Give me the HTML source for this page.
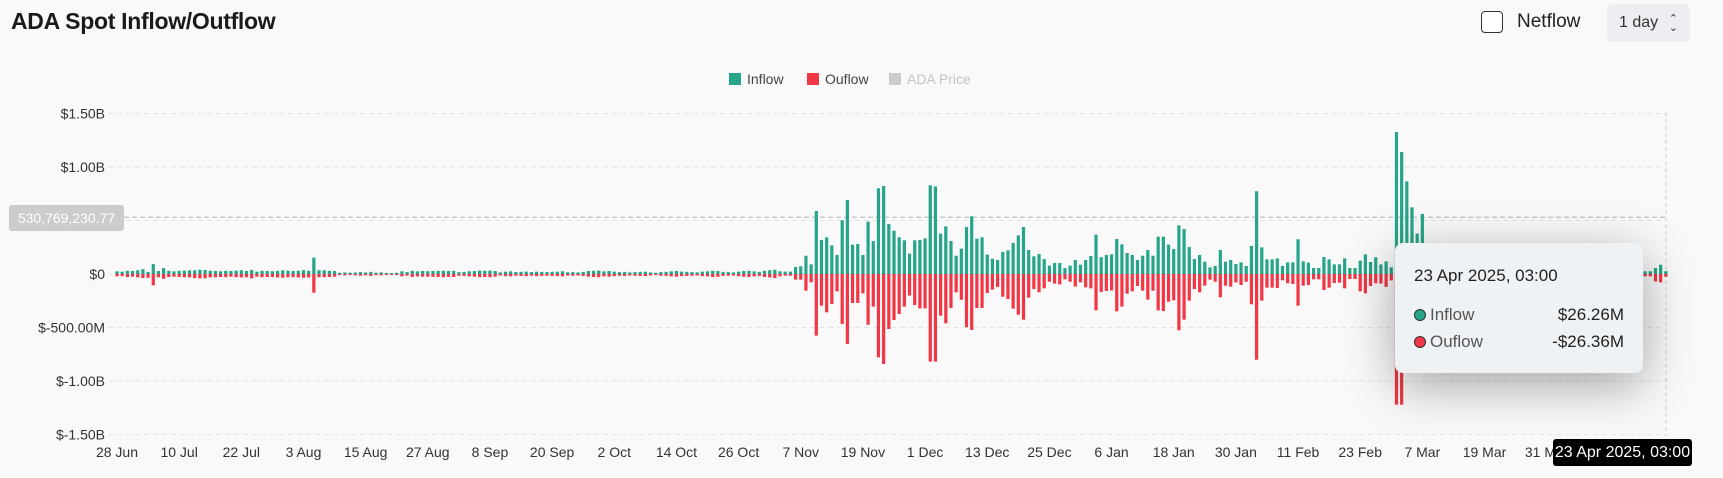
<!DOCTYPE html>
<html><head><meta charset="utf-8"><style>
html,body{margin:0;padding:0;width:1723px;height:478px;overflow:hidden;background:#f9f9f9;font-family:"Liberation Sans",sans-serif;}
#title{position:absolute;left:11px;top:8px;font-size:23px;font-weight:bold;color:#1a1a1a;letter-spacing:-0.3px}
#cb{position:absolute;left:1481px;top:11px;width:20px;height:20px;border:1.5px solid #333;border-radius:4px;background:#fff}
#nf{position:absolute;left:1517px;top:11px;font-size:19px;color:#222}
#sel{position:absolute;left:1607px;top:4px;width:83px;height:38px;background:#eceef1;border-radius:6px;font-size:16px;color:#333;line-height:38px;box-sizing:border-box;padding-left:12px}
#sel span{position:absolute;right:12px;top:0;font-size:11px;line-height:9px;padding-top:11px;text-align:center}
#tip{position:absolute;left:1395px;top:243px;width:248px;height:130px;background:#eff2f5;border-radius:8px;box-shadow:0 12px 50px rgba(0,0,0,0.35);color:#333;font-size:17px}
#tip .h{position:absolute;left:19px;top:23px;color:#222}
#tip .r{position:absolute;left:19px;width:210px;height:22px}
#tip .d{position:absolute;left:0;top:4px;width:10px;height:10px;border-radius:50%;border:1.5px solid #333}
#tip .l{position:absolute;left:16px;top:0;color:#555}
#tip .v{position:absolute;right:0;top:0;color:#222}
#xbox{position:absolute;left:1553px;top:439px;width:139px;height:27px;background:#000;color:#fff;font-size:16px;line-height:27px;text-align:center;border-radius:3px}
#ylab{position:absolute;left:9px;top:205px;width:115px;height:26px;background:#ccc;color:#fff;font-size:14px;line-height:26px;text-align:center;border-radius:3px}
</style></head><body>
<div id="title">ADA Spot Inflow/Outflow</div>
<div id="cb"></div>
<div id="nf">Netflow</div>
<div id="sel">1 day<span>⌃<br>⌄</span></div>
<svg id="chart" width="1723" height="478" style="position:absolute;left:0;top:0"></svg>
<div id="ylab">530,769,230.77</div>
<div id="tip">
 <div class="h">23 Apr 2025, 03:00</div>
 <div class="r" style="top:62px"><div class="d" style="background:#26a58a"></div><div class="l">Inflow</div><div class="v">$26.26M</div></div>
 <div class="r" style="top:89px"><div class="d" style="background:#f23645"></div><div class="l">Ouflow</div><div class="v">-$26.36M</div></div>
</div>
<div id="xbox">23 Apr 2025, 03:00</div>
<script>
const inflow=[25,22,30,28,35,45,20,93,28,55,30,25,30,32,35,35,40,38,30,28,25,30,28,32,35,28,38,22,30,28,26,30,35,32,28,30,36,30,153,35,35,30,28,12,15,12,14,18,15,20,12,15,10,8,12,25,18,30,25,28,26,28,30,30,28,30,18,20,25,28,32,30,32,28,15,22,25,18,20,22,18,22,20,18,20,22,25,16,18,15,20,28,30,32,25,28,22,18,20,15,18,20,22,15,12,18,20,25,28,22,20,18,15,22,25,30,28,20,18,15,22,28,30,25,20,30,35,40,25,
22,22,65,72,171,90,589,318,343,268,178,502,692,274,280,178,489,308,801,822,467,405,343,315,190,315,318,333,829,819,377,445,308,171,237,439,539,330,343,181,143,131,206,221,290,361,439,224,165,187,140,78,103,103,56,78,131,87,131,168,368,156,178,184,327,277,196,178,131,171,224,171,349,349,274,234,455,421,252,140,178,115,62,75,224,115,131,93,109,75,262,773,249,137,137,146,75,109,109,324,118,106,56,56,159,137,90,90,146,56,56,125,184,112,156,
90,118,62,1327,1140,866,623,377,561,60,80,55,70,90,50,45,65,80,70,55,60,75,50,45,70,85,60,50,40,65,55,70,45,50,60,80,55,40,35,50,65,45,55,70,40,35,50,45,30,40,50,25,25,56,87,26];
const outflow=[22,20,28,25,30,38,35,106,30,45,28,25,28,30,32,38,42,40,32,30,28,30,25,30,32,30,40,25,30,28,28,32,35,30,30,32,35,32,175,30,30,28,25,10,12,10,12,15,12,18,10,12,8,8,10,22,16,28,22,25,25,26,28,30,26,28,16,18,22,25,30,28,30,25,14,20,22,16,18,20,16,20,18,16,18,20,22,15,16,14,18,25,28,30,22,25,20,16,18,14,16,18,20,14,10,16,18,22,25,20,18,16,14,20,22,28,26,18,16,14,20,25,28,22,18,28,32,38,22,
16,16,53,53,156,78,576,296,358,280,162,467,654,271,271,181,474,305,779,841,514,430,374,305,202,290,321,321,819,819,389,461,318,171,240,498,523,318,318,178,146,121,212,234,324,380,427,221,140,171,134,72,90,97,50,72,118,78,125,134,340,168,159,153,349,305,184,162,112,156,240,156,340,346,259,246,526,427,249,140,171,109,53,72,218,109,118,78,103,72,283,801,249,128,128,131,59,87,93,296,109,103,50,50,150,128,84,81,134,47,47,162,181,112,87,
90,120,60,1221,1221,400,380,300,420,65,85,60,75,95,55,50,70,85,65,60,65,80,55,50,75,90,65,55,45,70,60,75,50,55,65,85,60,45,40,55,70,50,60,75,45,40,55,50,35,45,55,22,22,69,78,26];
const yTicks=[1500,1000,500,0,-500,-1000,-1500];
const yTickLabels=["$1.50B","$1.00B","","$0","$-500.00M","$-1.00B","$-1.50B"];
const xTickLabels=["28 Jun","10 Jul","22 Jul","3 Aug","15 Aug","27 Aug","8 Sep","20 Sep","2 Oct","14 Oct","26 Oct","7 Nov","19 Nov","1 Dec","13 Dec","25 Dec","6 Jan","18 Jan","30 Jan","11 Feb","23 Feb","7 Mar","19 Mar","31 Mar"];
const xTickStep=12;
const legendItems=["Inflow","Ouflow","ADA Price"];

const NS="http://www.w3.org/2000/svg";
const svg=document.getElementById('chart');
const X0=117,DX=5.18,Y0=274,PX_PER_M=53.5/500,RIGHT=1666;
const xs=d=>X0+DX*d;
const ys=v=>Y0-v*PX_PER_M;
function mk(tag,attrs,parent){const e=document.createElementNS(NS,tag);for(const k in attrs)e.setAttribute(k,attrs[k]);(parent||svg).appendChild(e);return e;}
// grid + y ticks
yTicks.forEach((t,i)=>{
  const g=mk('line',{x1:108,x2:RIGHT,y1:ys(t),y2:ys(t),stroke:'#e4e4e4','stroke-dasharray':'5,4','stroke-width':1});
  
  
  if(yTickLabels[i]){
    const tx=mk('text',{x:105,y:ys(t)+5,'text-anchor':'end','font-size':14,fill:'#333','font-family':'Liberation Sans, sans-serif'});
    tx.textContent=yTickLabels[i];
    
    
  }
});
// crosshair lines
const ch=mk('line',{x1:108,x2:RIGHT,y1:ys(530.77),y2:ys(530.77),stroke:'#ccc','stroke-dasharray':'5,3','stroke-width':1.5});


const cv=mk('line',{x1:RIGHT,x2:RIGHT,y1:112,y2:436,stroke:'#ccc','stroke-dasharray':'4,3','stroke-width':1});


// bars
inflow.forEach((v,i)=>{
  const b=mk('rect',{x:xs(i)-1.6,y:ys(v),width:3.2,height:Math.max(1,ys(0)-ys(v)),fill:'#26a58a'});
  
  
});
outflow.forEach((v,i)=>{
  const b=mk('rect',{x:xs(i)-1.6,y:ys(0),width:3.2,height:Math.max(1,ys(-v)-ys(0)),fill:'#f23645'});
  
  
});
// x ticks
xTickLabels.forEach((l,i)=>{
  const t=mk('text',{x:xs(i*xTickStep),y:457,'text-anchor':'middle','font-size':14,fill:'#333','font-family':'Liberation Sans, sans-serif'});
  t.textContent=l;
  
  
});
// legend
const legColors=['#26a58a','#f23645','#cccccc'];
const legX=[729,807,889];
legendItems.forEach((l,i)=>{
  const r=mk('rect',{x:legX[i],y:73,width:12,height:12,fill:legColors[i]});
  
  
  const t=mk('text',{x:legX[i]+18,y:84,'font-size':14,fill:i==2?'#c4c4c4':'#444','font-family':'Liberation Sans, sans-serif'});
  t.textContent=l;
  
  
});
</script>
</body></html>
